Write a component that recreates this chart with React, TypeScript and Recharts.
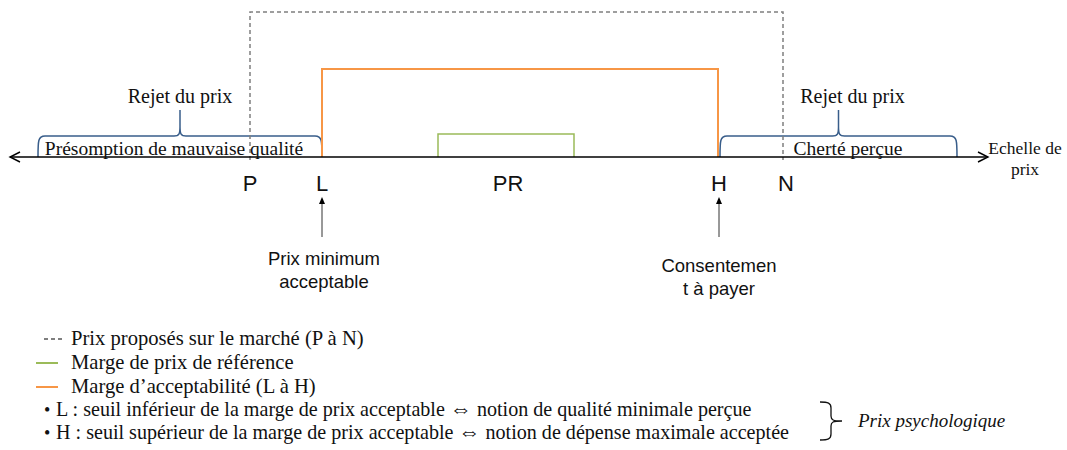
import React from 'react';
import {
  LineChart,
  Line,
  XAxis,
  YAxis,
  ReferenceLine,
  ReferenceArea,
  ReferenceDot,
  Legend,
} from 'recharts';

// positions along the price scale
const markerNames = ['P', 'L', 'PR', 'H', 'N'];
const markerPrices = [250, 322, 508, 719, 786];

// ranges drawn above the axis: [from, to] and height
const marketRange = [250, 783];
const marketHeight = 145;
const acceptRange = [322, 718];
const acceptHeight = 88;
const referenceRange = [438, 574];
const referenceHeight = 23;

// rejection zones
const lowRejectRange = [38, 322];
const highRejectRange = [720, 957];
const rejectTitle = 'Rejet du prix';
const lowRejectText = 'Présomption de mauvaise qualité';
const highRejectText = 'Cherté perçue';

const axisLabel = ['Echelle de', 'prix'];
const minPriceText = ['Prix minimum', 'acceptable'];
const willingnessText = ['Consentemen', 't à payer'];

const seriesNames = [
  'Prix proposés sur le marché (P à N)',
  'Marge de prix de référence',
  'Marge d’acceptabilité (L à H)',
];
const seriesColors = ['#7f7f7f', '#9bbb59', '#f79646'];
const seriesDash = ['4 3', undefined, undefined];

const bulletLines = [
  ['L : seuil inférieur de la marge de prix acceptable ', ' notion de qualité minimale perçue'],
  ['H : seuil supérieur de la marge de prix acceptable ', ' notion de dépense maximale acceptée'],
];
const bracketText = 'Prix psychologique';

const SERIF = '"Liberation Serif", "Times New Roman", serif';
const SANS = '"Liberation Sans", Arial, sans-serif';
const BRACE = '#385d8a';

const W = 1067;
const H = 450;

const boxPoints = (range: number[], h: number, base = 0) => [
  { x: range[0], y: base },
  { x: range[0], y: h },
  { x: range[1], y: h },
  { x: range[1], y: base },
];

const marketData = boxPoints(marketRange, marketHeight, -3);
const referenceData = boxPoints(referenceRange, referenceHeight);
const acceptData = boxPoints(acceptRange, acceptHeight);

// horizontal curly brace, tip up, resting on the axis
const braceShape = (barHeight: number) => (props: any) => {
  const { x, y, width, height } = props;
  const xl = x;
  const xr = x + width;
  const yb = y + height;
  const yt = y;
  const yBar = yb - barHeight;
  const xm = (xl + xr) / 2;
  const d = [
    `M${xl},${yb}`,
    `C${xl},${yBar + 5} ${xl},${yBar} ${xl + 7},${yBar}`,
    `L${xm - 6},${yBar}`,
    `C${xm - 1},${yBar} ${xm},${yBar - 2} ${xm},${yBar - 9}`,
    `L${xm},${yt}`,
    `L${xm},${yBar - 9}`,
    `C${xm},${yBar - 2} ${xm + 1},${yBar} ${xm + 6},${yBar}`,
    `L${xr - 7},${yBar}`,
    `C${xr},${yBar} ${xr},${yBar + 5} ${xr},${yb}`,
  ].join(' ');
  return <path d={d} fill="none" stroke={BRACE} strokeWidth={1.5} />;
};

const axisShape = (props: any) => {
  const { x1, y1, x2 } = props;
  return (
    <g>
      <line x1={x1} y1={y1} x2={x2} y2={y1} stroke="#000" strokeWidth={1.6} />
      <polyline points={`${x1 + 10},${y1 - 5} ${x1},${y1} ${x1 + 10},${y1 + 5}`} fill="none" stroke="#000" strokeWidth={1.4} />
      <polyline points={`${x2 - 10},${y1 - 5} ${x2},${y1} ${x2 - 10},${y1 + 5}`} fill="none" stroke="#000" strokeWidth={1.4} />
    </g>
  );
};

const arrowShape = (props: any) => {
  const { x1, y1, y2 } = props;
  const top = Math.min(y1, y2);
  const bottom = Math.max(y1, y2);
  return (
    <g>
      <line x1={x1} y1={bottom} x2={x1} y2={top + 6} stroke="#333" strokeWidth={1} />
      <polygon points={`${x1 - 3},${top + 7} ${x1},${top} ${x1 + 3},${top + 7}`} fill="#000" />
    </g>
  );
};

const textShape =
  (lines: string[], font: string, size: number, anchor = 'middle', lead = 22) =>
  (props: any) => {
    const { cx, cy } = props;
    return (
      <text x={cx} y={cy} textAnchor={anchor} fontFamily={font} fontSize={size} fill="#111">
        {lines.map((l, i) => (
          <tspan key={i} x={cx} dy={i === 0 ? 0 : lead}>
            {l}
          </tspan>
        ))}
      </text>
    );
  };

const LegendBox = () => {
  const rows = [20, 44, 68];
  return (
    <svg width={W} height={125} style={{ display: 'block' }}>
      {seriesNames.map((name, i) => (
        <g key={name}>
          <line
            x1={i === 0 ? 44 : 36}
            x2={i === 0 ? 62 : 58}
            y1={rows[i] - 6}
            y2={rows[i] - 6}
            stroke={seriesColors[i]}
            strokeWidth={2}
            strokeDasharray={seriesDash[i]}
          />
          <text x={71} y={rows[i]} fontFamily={SERIF} fontSize={20.6} fill="#111">
            {name}
          </text>
        </g>
      ))}
      {bulletLines.map((t, i) => (
        <g key={i}>
          <text x={44} y={91 + i * 23} fontFamily={SERIF} fontSize={18} fill="#111">
            •
          </text>
          <text x={56} y={91 + i * 23} fontFamily={SERIF} fontSize={20.1} fill="#111">
            {t[0]}
            <tspan fontFamily='"DejaVu Sans", sans-serif' fontSize={22} fontWeight={200}>
              ⇔
            </tspan>
            {t[1]}
          </text>
        </g>
      ))}
      <path
        d="M820,77 C828,77 831,78 831,83 L831,91 C831,95 833,96 842,96 C833,96 831,97 831,101 L831,109 C831,114 828,115 820,115"
        fill="none"
        stroke="#111"
        strokeWidth={1.3}
      />
      <text x={858} y={102} fontFamily={SERIF} fontSize={19} fontStyle="italic" fill="#111">
        {bracketText}
      </text>
    </svg>
  );
};

export default function App() {
  return (
    <div style={{ position: 'absolute', left: 0, top: 0, background: '#fff' }}>
      <LineChart width={W} height={H} margin={{ top: 0, right: 0, bottom: 0, left: 0 }}>
        <XAxis type="number" dataKey="x" domain={[0, W]} hide allowDataOverflow />
        <YAxis type="number" domain={[-168, 157]} hide allowDataOverflow />

        <Line
          data={marketData}
          dataKey="y"
          name={seriesNames[0]}
          stroke={seriesColors[0]}
          strokeWidth={1.5}
          strokeDasharray={seriesDash[0]}
          dot={false}
          activeDot={false}
          isAnimationActive={false}
        />
        <Line
          data={referenceData}
          dataKey="y"
          name={seriesNames[1]}
          stroke={seriesColors[1]}
          strokeWidth={1.5}
          dot={false}
          activeDot={false}
          isAnimationActive={false}
        />
        <Line
          data={acceptData}
          dataKey="y"
          name={seriesNames[2]}
          stroke={seriesColors[2]}
          strokeWidth={2}
          dot={false}
          activeDot={false}
          isAnimationActive={false}
        />

        <ReferenceArea x1={lowRejectRange[0]} x2={lowRejectRange[1]} y1={0} y2={47} shape={braceShape(21)} />
        <ReferenceArea x1={highRejectRange[0]} x2={highRejectRange[1]} y1={0} y2={47} shape={braceShape(21)} />

        <ReferenceLine segment={[{ x: 10, y: 0 }, { x: 988, y: 0 }]} shape={axisShape} />

        <ReferenceLine segment={[{ x: markerPrices[1], y: -80 }, { x: markerPrices[1], y: -40 }]} shape={arrowShape} />
        <ReferenceLine segment={[{ x: markerPrices[3], y: -80 }, { x: markerPrices[3], y: -40 }]} shape={arrowShape} />

        {markerNames.map((n, i) => (
          <ReferenceDot key={n} x={markerPrices[i]} y={-34} r={0} shape={textShape([n], SANS, 22)} />
        ))}

        <ReferenceDot x={(lowRejectRange[0] + lowRejectRange[1]) / 2} y={54} r={0} shape={textShape([rejectTitle], SERIF, 20)} />
        <ReferenceDot x={(highRejectRange[0] + highRejectRange[1]) / 2 + 14} y={54} r={0} shape={textShape([rejectTitle], SERIF, 20)} />
        <ReferenceDot x={174} y={2} r={0} shape={textShape([lowRejectText], SERIF, 19.5)} />
        <ReferenceDot x={848} y={2} r={0} shape={textShape([highRejectText], SERIF, 19.5)} />
        <ReferenceDot x={1025} y={3} r={0} shape={textShape(axisLabel, SERIF, 17.5, 'middle', 21)} />

        <ReferenceDot x={markerPrices[1] + 2} y={-108} r={0} shape={textShape(minPriceText, SANS, 18.5, 'middle', 23)} />
        <ReferenceDot x={markerPrices[3]} y={-115} r={0} shape={textShape(willingnessText, SANS, 18.5, 'middle', 23)} />

        <Legend verticalAlign="bottom" content={() => <LegendBox />} wrapperStyle={{ left: 0, width: W, height: 125 }} />
      </LineChart>
    </div>
  );
}
